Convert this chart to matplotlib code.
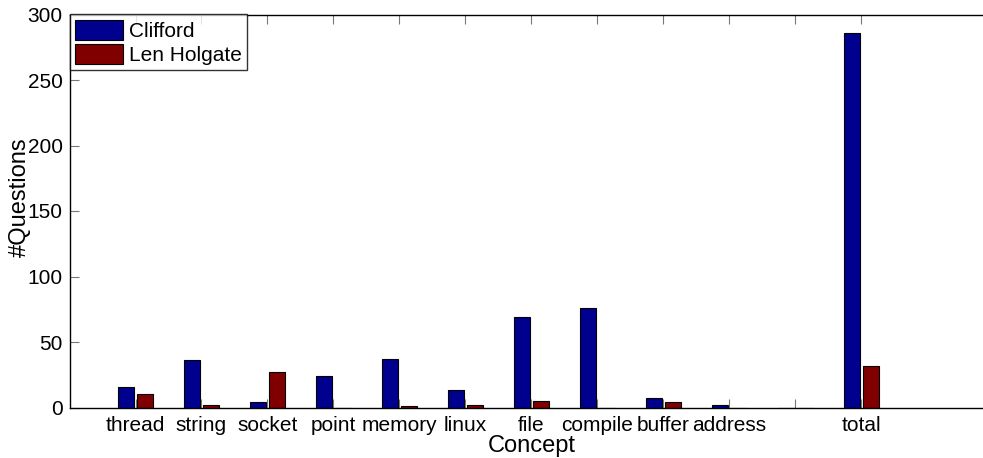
import numpy as np
import matplotlib
matplotlib.use('Agg')
import matplotlib.pyplot as plt

plt.rcParams['font.family'] = ['Liberation Sans', 'DejaVu Sans']

# concepts (position 11 left empty, like the original)
concepts = ['thread', 'string', 'socket', 'point', 'memory', 'linux',
            'file', 'compile', 'buffer', 'address', '', 'total']
clifford = [16, 36, 4, 24, 37, 13, 69, 76, 7, 2, 0, 286]
holgate = [10, 2, 27, 0, 1, 2, 5, 0, 4, 0, 0, 32]
series_names = ['Clifford', 'Len Holgate']
series_colors = ['#00008F', '#800000']

W, H = 983, 458
fig = plt.figure(figsize=(W / 100, H / 100), dpi=100)
# axes run past the right edge of the picture (cropped like the original)
ax = fig.add_axes([69.5 / W, (H - 407.5) / H, 924 / W, 393 / H])

x = np.arange(1, len(concepts) + 1)
bw = 0.24
off = 0.145
ax.bar(x - off, clifford, bw, color=series_colors[0], edgecolor='black',
       linewidth=0.8, label=series_names[0])
ax.bar(x + off, holgate, bw, color=series_colors[1], edgecolor='black',
       linewidth=0.8, label=series_names[1])

ax.set_xlim(0, 14)
ax.set_ylim(0, 300)
ax.set_yticks(np.arange(0, 301, 50))
ax.set_xticks(x)
ax.set_xticklabels(concepts)
ax.tick_params(direction='in', length=6.5, width=0.8, color='#777777',
               labelsize=15, top=True, right=False)
ax.tick_params(axis='x', pad=6)
ax.tick_params(axis='y', pad=5)
for s in ax.spines.values():
    s.set_linewidth(1.0)

ax.set_xlabel('Concept', fontsize=17, labelpad=0)
ax.set_ylabel('#Questions', fontsize=17)
ax.yaxis.set_label_coords(-0.0417, 0.536)

leg = ax.legend(loc='upper left', fontsize=15, frameon=True, fancybox=False,
                borderaxespad=0, handlelength=2.3, handleheight=1.1,
                borderpad=0.25, labelspacing=0.15, handletextpad=0.3)
leg.get_frame().set_edgecolor('black')
leg.get_frame().set_linewidth(1.0)

fig.savefig('out.png', dpi=100)
